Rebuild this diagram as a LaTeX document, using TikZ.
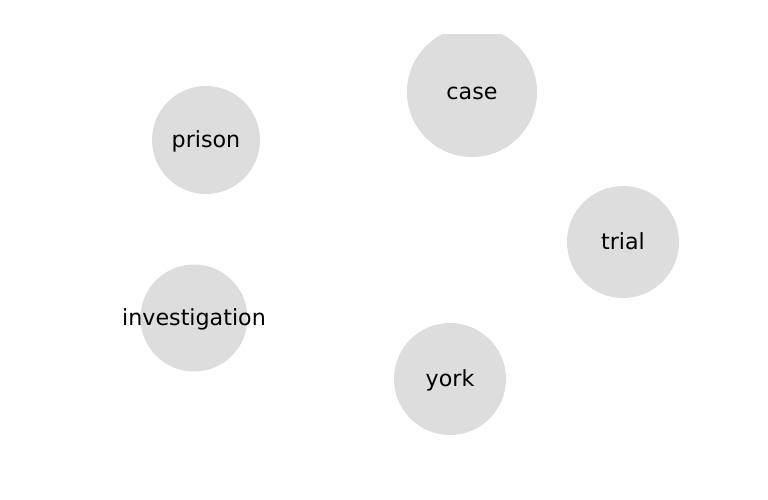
\documentclass[tikz,border=0pt]{standalone}
\usepackage{fontspec}
\setmainfont{DejaVu Sans}
\definecolor{nodeGray}{HTML}{DDDDDD}
\newcommand{\termlabel}[1]{\makebox[0pt]{#1}}

\begin{document}
\begin{tikzpicture}[
    x=1pt, y=-1pt,
    every node/.style={circle, fill=nodeGray, inner sep=0pt, text=black, font=\fontsize{22.2}{26}\selectfont, text height=17.8pt, text depth=2.2pt}
  ]
  \useasboundingbox (0,0) rectangle (768,500);
  \clip (0,35) rectangle (768,465);

  \node[minimum size=130pt] (case) at (472,92) {\termlabel{case}};
  \node[minimum size=108pt] (prison) at (206,140) {\termlabel{prison}};
  \node[minimum size=112pt] (trial) at (623,242) {\termlabel{trial}};
  \node[minimum size=107pt] (investigation) at (194,318) {\termlabel{investigation}};
  \node[minimum size=112pt] (york) at (450,379) {\termlabel{york}};
\end{tikzpicture}
\end{document}
